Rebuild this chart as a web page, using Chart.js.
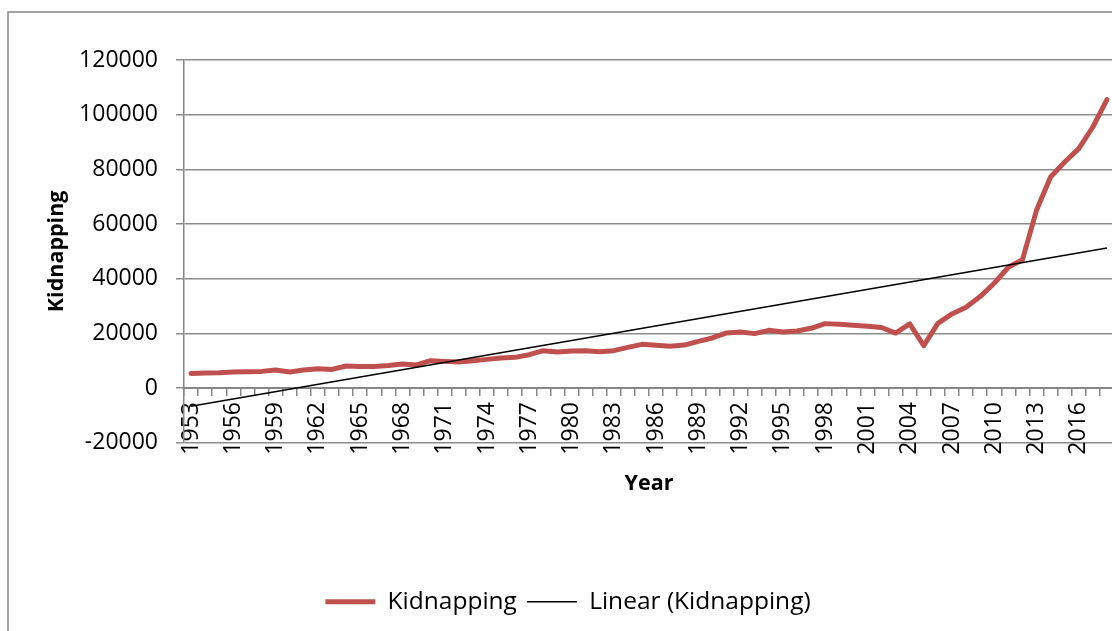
<!DOCTYPE html>
<html>
<head>
<meta charset="utf-8">
<script src="https://cdn.jsdelivr.net/npm/chart.js@4.4.0/dist/chart.umd.min.js"></script>
<style>
  html, body { margin: 0; padding: 0; overflow: hidden; background: #fff; }
</style>
</head>
<body>
<canvas id="lineChart" width="1136" height="650"></canvas>
<script>
var years = ["1953", "1954", "1955", "1956", "1957", "1958", "1959", "1960", "1961", "1962",
  "1963", "1964", "1965", "1966", "1967", "1968", "1969", "1970", "1971", "1972",
  "1973", "1974", "1975", "1976", "1977", "1978", "1979", "1980", "1981", "1982",
  "1983", "1984", "1985", "1986", "1987", "1988", "1989", "1990", "1991", "1992",
  "1993", "1994", "1995", "1996", "1997", "1998", "1999", "2000", "2001", "2002",
  "2003", "2004", "2005", "2006", "2007", "2008", "2009", "2010", "2011", "2012",
  "2013", "2014", "2015", "2016", "2017", "2018"]

var kidnapping = [5350, 5500, 5600, 5860, 5970, 6090, 6590, 5860, 6600, 7070,
  6820, 8050, 7900, 7900, 8280, 8790, 8430, 10000, 9750, 9530,
  10000, 10480, 10990, 11220, 12200, 13670, 13190, 13560, 13670, 13300,
  13670, 14880, 15980, 15610, 15300, 15700, 17080, 18320, 20150, 20520,
  19900, 21110, 20520, 20890, 21850, 23560, 23310, 22940, 22570, 22150,
  20100, 23450, 15500, 23670, 27110, 29550, 33460, 38330, 44190, 46900,
  65000, 77170, 82670, 87560, 95490, 105530]

var yMin = -20000
var yMax = 120000
var yStep = 20000

var fontFamily = "'Open Sans', 'Liberation Sans', sans-serif"

// Excel style linear trend line (least squares on the category index)
function linearTrend(values) {
  var n = values.length, sx = 0, sy = 0, sxx = 0, sxy = 0
  for (var i = 0; i < n; i++) {
    sx += i; sy += values[i]; sxx += i * i; sxy += i * values[i]
  }
  var b = (n * sxy - sx * sy) / (n * sxx - sx * sx)
  var a = (sy - b * sx) / n
  return values.map(function (v, i) {
    return (i === 0 || i === n - 1) ? a + b * i : null
  })
}
var trend = linearTrend(kidnapping)

// chart frame
var framePlugin = {
  id: "frame",
  beforeDraw: function (chart) {
    var c = chart.ctx
    c.save()
    c.strokeStyle = "#868686"
    c.lineWidth = 1.5
    c.strokeRect(8, 12, 1120, 700)
    c.restore()
  }
}

var ctx = document.getElementById("lineChart")
var chart_line = new Chart(ctx, {
  type: "line",
  plugins: [framePlugin],
  data: {
    labels: years,
    datasets: [
      {
        label: "Kidnapping",
        data: kidnapping,
        xAxisID: "x",
        borderColor: "#C0504D",
        backgroundColor: "#C0504D",
        borderWidth: 5,
        borderCapStyle: "round",
        borderJoinStyle: "round",
        pointRadius: 0,
        tension: 0,
        order: 2,
      },
      {
        label: "Linear (Kidnapping)",
        data: trend,
        xAxisID: "x",
        borderColor: "#000000",
        backgroundColor: "#000000",
        borderWidth: 1.5,
        pointRadius: 0,
        spanGaps: true,
        order: 1,
      },
    ],
  },
  options: {
    responsive: false,
    animation: false,
    layout: {
      padding: { top: 60, right: 22, bottom: 26, left: 22 },
    },
    scales: {
      x: {
        type: "category",
        position: { y: 0 },
        offset: true,
        grid: {
          offset: true,
          drawOnChartArea: false,
          drawTicks: true,
          tickLength: 7,
          color: "#868686",
          lineWidth: 1.5,
        },
        border: { display: true, color: "#868686", width: 2 },
        ticks: {
          autoSkip: false,
          minRotation: 90,
          maxRotation: 90,
          padding: 7,
          color: "#000",
          font: { family: fontFamily, size: 23 },
          callback: function (value, index) {
            return index % 3 === 0 ? this.getLabelForValue(value) : ""
          },
        },
        afterFit: function (scale) {
          scale.paddingLeft = 0
          scale.paddingRight = 0
        },
      },
      x2: {
        type: "category",
        position: "bottom",
        grid: { display: false },
        border: { display: false },
        ticks: { display: false },
        title: {
          display: true,
          text: "Year",
          color: "#000",
          font: { family: fontFamily, size: 21.5, weight: "bold" },
          padding: { top: 20, bottom: 83 },
        },
      },
      y: {
        min: yMin,
        max: yMax,
        ticks: {
          stepSize: yStep,
          padding: 18,
          color: "#000",
          font: { family: fontFamily, size: 23 },
          callback: function (value) {
            return String(value)
          },
        },
        grid: {
          color: "#8c8c8c",
          lineWidth: 1.5,
          tickLength: 8,
        },
        border: { display: true, color: "#868686", width: 1.5 },
        title: {
          display: true,
          text: "Kidnapping",
          color: "#000",
          font: { family: fontFamily, size: 21.5, weight: "bold" },
          padding: { top: 22, bottom: 0 },
        },
        afterFit: function (scale) {
          scale.width = 162
        },
      },
    },
    plugins: {
      legend: {
        position: "bottom",
        labels: {
          usePointStyle: true,
          pointStyle: "line",
          pointStyleWidth: 50,
          padding: 10,
          color: "#000",
          font: { family: fontFamily, size: 24.5 },
          sort: function (a, b) {
            return a.datasetIndex - b.datasetIndex
          },
        },
      },
      tooltip: { enabled: false },
    },
  },
})
</script>
</body>
</html>
